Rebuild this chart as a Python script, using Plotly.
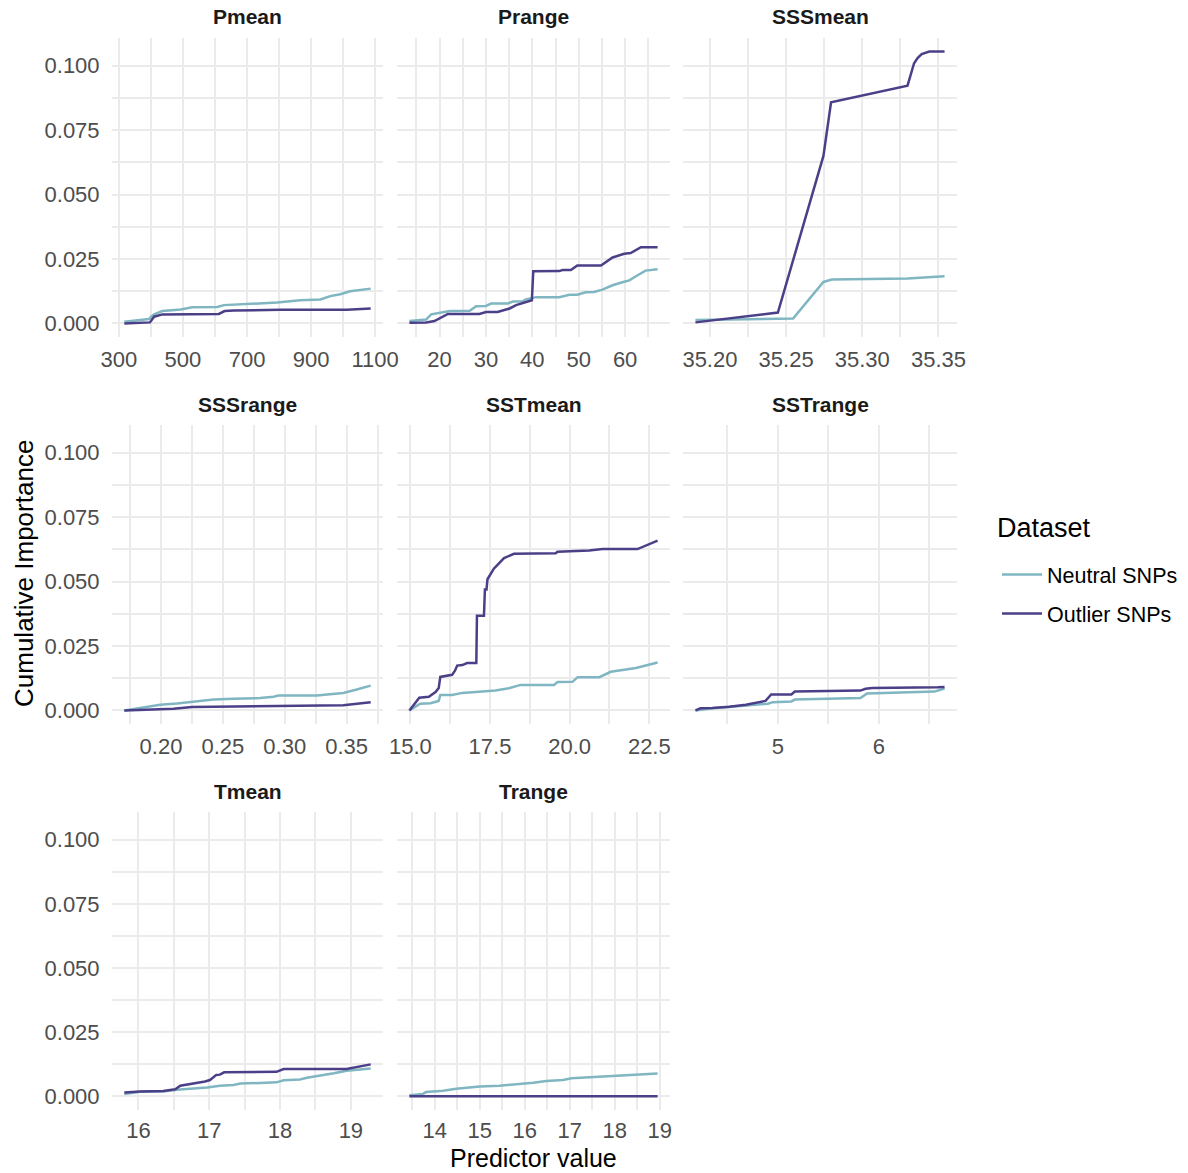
import plotly.graph_objects as go

W, H = 1188, 1173
NEU_COLOR = "#7fb6c1"
OUT_COLOR = "#4b3f88"
FONT = "Liberation Sans, Arial, Helvetica, sans-serif"

panels = ["Pmean", "Prange", "SSSmean", "SSSrange", "SSTmean", "SSTrange", "Tmean", "Trange"]

# ---- data ----
pmean_x_neu = [317, 394, 400, 410, 436, 493, 529, 607, 628, 711, 794, 866, 929, 960, 991, 1022, 1063, 1086]
pmean_y_neu = [0.0006, 0.0017, 0.0025, 0.0035, 0.0048, 0.0054, 0.0063, 0.0064, 0.0071, 0.0076, 0.0081, 0.0090, 0.0093, 0.0106, 0.0113, 0.0125, 0.0133, 0.0135]
pmean_x_out = [317, 397, 410, 436, 612, 630, 659, 804, 1012, 1086]
pmean_y_out = [0.0000, 0.0004, 0.0026, 0.0035, 0.0037, 0.0048, 0.0050, 0.0053, 0.0053, 0.0058]

prange_x_neu = [13.5, 17.1, 18.2, 20.0, 22.2, 26.5, 27.9, 30.0, 31.1, 34.7, 35.8, 37.9, 38.6, 40.8, 45.8, 48.0, 49.7, 51.5, 53.3, 55.1, 57.3, 59.4, 60.9, 62.7, 64.4, 67.0]
prange_y_neu = [0.0009, 0.0015, 0.0035, 0.0041, 0.0048, 0.0049, 0.0067, 0.0068, 0.0077, 0.0077, 0.0085, 0.0086, 0.0093, 0.0102, 0.0102, 0.0111, 0.0111, 0.0121, 0.0122, 0.0131, 0.0148, 0.0160, 0.0167, 0.0187, 0.0205, 0.0210]
prange_x_out = [13.5, 17.1, 18.9, 21.8, 28.6, 30.0, 32.5, 35.1, 36.5, 37.9, 39.0, 39.9, 40.2, 45.8, 46.5, 48.3, 49.7, 54.8, 57.3, 59.8, 61.2, 63.4, 67.0]
prange_y_out = [0.0003, 0.0004, 0.0009, 0.0037, 0.0037, 0.0044, 0.0044, 0.0058, 0.0071, 0.0080, 0.0084, 0.0090, 0.0202, 0.0203, 0.0207, 0.0207, 0.0225, 0.0225, 0.0256, 0.0270, 0.0273, 0.0296, 0.0296]

sssmean_x_neu = [35.1905, 35.2546, 35.2745, 35.2800, 35.3297, 35.3540]
sssmean_y_neu = [0.0013, 0.0019, 0.0161, 0.0170, 0.0174, 0.0183]
sssmean_x_out = [35.1905, 35.2446, 35.2745, 35.2795, 35.3297, 35.3319, 35.3340, 35.3363, 35.3390, 35.3440, 35.3540]
sssmean_y_out = [0.0004, 0.0042, 0.0650, 0.0858, 0.0923, 0.0965, 0.1010, 0.1030, 0.1045, 0.1055, 0.1055]

sssrange_x_neu = [0.1704, 0.1833, 0.1995, 0.2129, 0.2250, 0.2425, 0.2586, 0.2801, 0.2909, 0.2949, 0.3258, 0.3392, 0.3473, 0.3581, 0.3694]
sssrange_y_neu = [0.0000, 0.0010, 0.0022, 0.0027, 0.0032, 0.0042, 0.0045, 0.0048, 0.0053, 0.0058, 0.0058, 0.0063, 0.0068, 0.0081, 0.0096]
sssrange_x_out = [0.1704, 0.2102, 0.2250, 0.2586, 0.2962, 0.3473, 0.3694]
sssrange_y_out = [0.0000, 0.0006, 0.0013, 0.0015, 0.0019, 0.0020, 0.0032]

sstmean_x_neu = [14.97, 15.31, 15.63, 15.89, 15.94, 16.31, 16.63, 17.05, 17.36, 17.67, 18.09, 18.46, 19.51, 19.62, 20.09, 20.25, 20.93, 21.29, 22.08, 22.76]
sstmean_y_neu = [0.0000, 0.0026, 0.0028, 0.0037, 0.0060, 0.0060, 0.0068, 0.0071, 0.0076, 0.0077, 0.0086, 0.0099, 0.0099, 0.0110, 0.0111, 0.0129, 0.0129, 0.0150, 0.0165, 0.0186]
sstmean_x_out = [14.97, 15.28, 15.58, 15.79, 15.89, 15.94, 16.31, 16.40, 16.47, 16.63, 16.78, 17.07, 17.09, 17.31, 17.34, 17.39, 17.42, 17.62, 17.94, 18.25, 19.56, 19.62, 20.61, 21.03, 22.13, 22.76]
sstmean_y_out = [0.0000, 0.0049, 0.0053, 0.0071, 0.0087, 0.0130, 0.0138, 0.0154, 0.0174, 0.0176, 0.0184, 0.0184, 0.0367, 0.0367, 0.0469, 0.0469, 0.0509, 0.0550, 0.0591, 0.0608, 0.0610, 0.0616, 0.0621, 0.0626, 0.0626, 0.0659]

sstrange_x_neu = [4.183, 4.350, 4.517, 4.817, 4.900, 4.950, 5.133, 5.167, 5.817, 5.883, 6.350, 6.550, 6.650]
sstrange_y_neu = [0.0000, 0.0008, 0.0013, 0.0023, 0.0026, 0.0032, 0.0035, 0.0042, 0.0048, 0.0066, 0.0072, 0.0073, 0.0085]
sstrange_x_out = [4.183, 4.233, 4.350, 4.517, 4.683, 4.817, 4.877, 4.933, 5.133, 5.167, 5.817, 5.867, 5.933, 6.583, 6.650]
sstrange_y_out = [0.0000, 0.0008, 0.0009, 0.0014, 0.0022, 0.0032, 0.0037, 0.0062, 0.0062, 0.0073, 0.0077, 0.0084, 0.0087, 0.0090, 0.0091]

tmean_x_neu = [15.80, 16.02, 16.35, 16.54, 16.97, 17.15, 17.34, 17.44, 17.95, 18.05, 18.28, 18.38, 18.76, 18.94, 19.28]
tmean_y_neu = [0.0010, 0.0018, 0.0019, 0.0026, 0.0035, 0.0042, 0.0045, 0.0050, 0.0055, 0.0063, 0.0066, 0.0073, 0.0090, 0.0100, 0.0109]
tmean_x_out = [15.80, 16.02, 16.35, 16.45, 16.52, 16.59, 16.66, 16.80, 16.85, 16.94, 17.01, 17.10, 17.15, 17.21, 17.95, 18.00, 18.05, 18.94, 19.28]
tmean_y_out = [0.0015, 0.0019, 0.0021, 0.0026, 0.0028, 0.0042, 0.0045, 0.0050, 0.0055, 0.0058, 0.0064, 0.0084, 0.0085, 0.0094, 0.0096, 0.0103, 0.0107, 0.0107, 0.0125]

trange_x_neu = [13.44, 13.74, 13.81, 14.19, 14.48, 14.78, 15.00, 15.44, 15.96, 16.19, 16.48, 16.85, 17.04, 17.67, 18.19, 18.95]
trange_y_neu = [0.0005, 0.0010, 0.0017, 0.0022, 0.0030, 0.0035, 0.0039, 0.0042, 0.0048, 0.0053, 0.0060, 0.0064, 0.0071, 0.0076, 0.0081, 0.0089]
trange_x_out = [13.44, 18.95]
trange_y_out = [0.0001, 0.0001]

series = {
    "Pmean": (pmean_x_neu, pmean_y_neu, pmean_x_out, pmean_y_out),
    "Prange": (prange_x_neu, prange_y_neu, prange_x_out, prange_y_out),
    "SSSmean": (sssmean_x_neu, sssmean_y_neu, sssmean_x_out, sssmean_y_out),
    "SSSrange": (sssrange_x_neu, sssrange_y_neu, sssrange_x_out, sssrange_y_out),
    "SSTmean": (sstmean_x_neu, sstmean_y_neu, sstmean_x_out, sstmean_y_out),
    "SSTrange": (sstrange_x_neu, sstrange_y_neu, sstrange_x_out, sstrange_y_out),
    "Tmean": (tmean_x_neu, tmean_y_neu, tmean_x_out, tmean_y_out),
    "Trange": (trange_x_neu, trange_y_neu, trange_x_out, trange_y_out),
}

# tick specs: (dtick, tick0, minor dtick, format)
xticks = {
    "Pmean": (200, 300, 100, "d"),
    "Prange": (10, 0, 5, "d"),
    "SSSmean": (0.05, 35.2, 0.025, ".2f"),
    "SSSrange": (0.05, 0, 0.025, ".2f"),
    "SSTmean": (2.5, 0, 1.25, ".1f"),
    "SSTrange": (1, 0, 0.5, "d"),
    "Tmean": (1, 0, 0.5, "d"),
    "Trange": (1, 0, 0.5, "d"),
}

# ---- layout geometry (pixels) ----
col_px = [(112, 383), (397, 670), (683, 957)]
row_px = [(38, 337), (425, 724), (812, 1110)]

GRID = "#ebebeb"
TICKFONT = dict(family=FONT, size=22, color="#4d4d4d")

all_y = [v for s in series.values() for arr in (s[1], s[3]) for v in arr]
ymin, ymax = 0.0, max(all_y)
ypad = (ymax - ymin) * 0.05
yrange = [ymin - ypad, ymax + ypad]

fig = go.Figure()
layout = {}
annotations = []

for i, name in enumerate(panels):
    r, c = divmod(i, 3)
    idx = i + 1
    xa = "xaxis" if idx == 1 else f"xaxis{idx}"
    ya = "yaxis" if idx == 1 else f"yaxis{idx}"
    xref = "x" if idx == 1 else f"x{idx}"
    yref = "y" if idx == 1 else f"y{idx}"
    xn, yn, xo, yo = series[name]
    fig.add_trace(go.Scatter(x=xn, y=yn, mode="lines", line=dict(color=NEU_COLOR, width=2.5),
                             name="Neutral SNPs", legendgroup="neu", showlegend=(i == 0),
                             xaxis=xref, yaxis=yref))
    fig.add_trace(go.Scatter(x=xo, y=yo, mode="lines", line=dict(color=OUT_COLOR, width=2.5),
                             name="Outlier SNPs", legendgroup="out", showlegend=(i == 0),
                             xaxis=xref, yaxis=yref))
    xmin = min(xn + xo); xmax = max(xn + xo)
    xpad = (xmax - xmin) * 0.05
    dt, t0, mdt, fmt = xticks[name]
    x0, x1 = col_px[c]
    y0, y1 = row_px[r]
    layout[xa] = dict(domain=[x0 / W, x1 / W], anchor=yref, range=[xmin - xpad, xmax + xpad],
                      automargin=False,
                      tickmode="linear", dtick=dt, tick0=t0, tickformat=fmt,
                      showgrid=True, gridcolor=GRID, gridwidth=1.6, zeroline=False, showline=False,
                      ticks="outside", ticklen=3 if r < 2 else 1, tickcolor="rgba(0,0,0,0)", tickfont=TICKFONT,
                      minor=dict(dtick=mdt, tick0=t0, showgrid=True, gridcolor=GRID, gridwidth=1.6, ticks=""))
    layout[ya] = dict(domain=[1 - y1 / H, 1 - y0 / H], anchor=xref, range=yrange,
                      automargin=False,
                      tickmode="linear", dtick=0.025, tick0=0, tickformat=".3f",
                      showticklabels=(c == 0),
                      showgrid=True, gridcolor=GRID, gridwidth=1.6, zeroline=False, showline=False,
                      ticks="outside" if c == 0 else "", ticklen=7, tickcolor="rgba(0,0,0,0)",
                      tickfont=TICKFONT,
                      minor=dict(dtick=0.0125, tick0=0, showgrid=True, gridcolor=GRID, gridwidth=1.6, ticks=""))
    annotations.append(dict(text=f"<b>{name}</b>", x=(x0 + x1) / 2 / W, y=1 - (y0 - 21) / H,
                            xref="paper", yref="paper", showarrow=False, xanchor="center", yanchor="middle",
                            font=dict(family=FONT, size=21, color="#1a1a1a")))

annotations.append(dict(text="Predictor value", x=533.5 / W, y=0, xref="paper", yref="paper",
                        showarrow=False, xanchor="center", yanchor="bottom", borderpad=0,
                        font=dict(family=FONT, size=25, color="#000000")))
annotations.append(dict(text="Cumulative Importance", x=24 / W, y=1 - 574 / H, xref="paper", yref="paper",
                        showarrow=False, xanchor="center", yanchor="middle", textangle=-90,
                        font=dict(family=FONT, size=26, color="#000000")))
annotations.append(dict(text="Dataset", x=995 / W, y=1 - 528 / H, xref="paper", yref="paper",
                        showarrow=False, xanchor="left", yanchor="middle",
                        font=dict(family=FONT, size=27, color="#000000")))

fig.update_layout(
    width=W, height=H,
    margin=dict(l=0, r=0, t=0, b=0, autoexpand=False),
    paper_bgcolor="white", plot_bgcolor="white",
    annotations=annotations,
    legend=dict(font=dict(family=FONT, size=21.5, color="#000"),
                x=997 / W, y=1 - 554 / H, xanchor="left", yanchor="top",
                tracegroupgap=8, itemwidth=40, bgcolor="rgba(0,0,0,0)"),
    **layout,
)

fig.write_html("out.html")
